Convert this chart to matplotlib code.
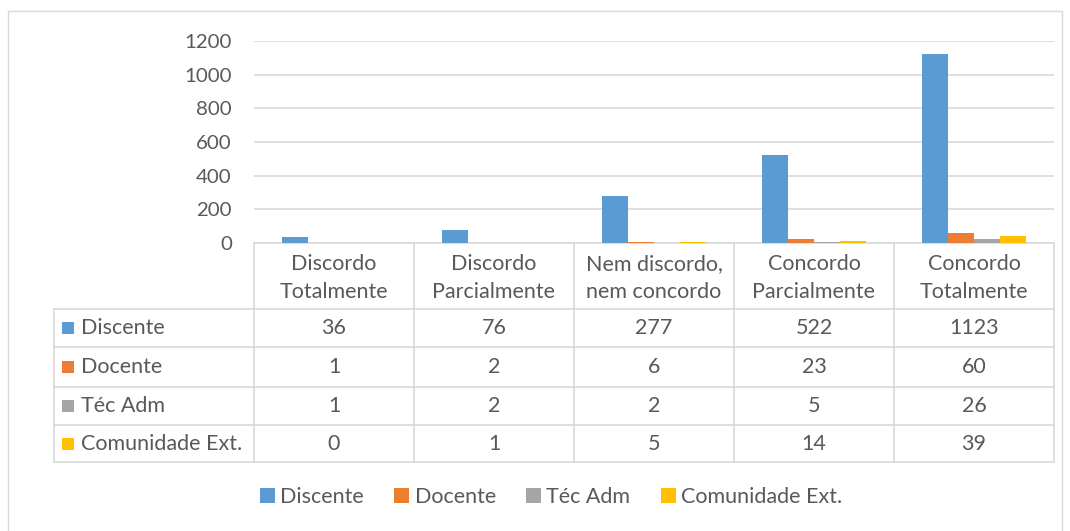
import matplotlib.pyplot as plt
from matplotlib.patches import Rectangle
import numpy as np

plt.rcParams['font.family'] = ['Lato', 'DejaVu Sans']

categories = ["Discordo\nTotalmente", "Discordo\nParcialmente", "Nem discordo,\nnem concordo",
              "Concordo\nParcialmente", "Concordo\nTotalmente"]
series = ["Discente", "Docente", "Téc Adm", "Comunidade Ext."]
discente = [36, 76, 277, 522, 1123]
docente = [1, 2, 6, 23, 60]
tec_adm = [1, 2, 2, 5, 26]
comunidade = [0, 1, 5, 14, 39]
values = [discente, docente, tec_adm, comunidade]
colors = ["#5B9BD5", "#ED7D31", "#A5A5A5", "#FFC000"]
yticks = [0, 200, 400, 600, 800, 1000, 1200]

W, H = 1070, 531
txt = "#595959"
grid = "#D9D9D9"
fig = plt.figure(figsize=(W / 100, H / 100), dpi=100)

# overlay in pixel coordinates for the table, border and legend
ov = fig.add_axes([0, 0, 1, 1])
ov.set_xlim(0, W)
ov.set_ylim(H, 0)
ov.axis("off")
ov.add_patch(Rectangle((8, 11), 1054, 530, fill=False, ec=grid, lw=1))

# bar plot area
x0, x1, y0, y1 = 254, 1054, 41, 243
ax = fig.add_axes([x0 / W, 1 - y1 / H, (x1 - x0) / W, (y1 - y0) / H])
x = np.arange(len(categories))
bw = 0.1625
for i, (name, vals) in enumerate(zip(series, values)):
    ax.bar(x + (i - 1.5) * bw, vals, bw, color=colors[i], label=name, zorder=3)
ax.set_xlim(-0.5, len(categories) - 0.5)
ax.set_ylim(0, 1200)
ax.set_yticks(yticks)
ax.set_xticks([])
ax.yaxis.grid(True, color=grid, lw=1.2, zorder=0)
for s in ax.spines.values():
    s.set_visible(False)
ax.tick_params(axis="y", length=0, pad=16, labelsize=14.7, labelcolor=txt)
ax.patch.set_alpha(0)

# data table
col_w = (x1 - x0) / len(categories)
left = 54
row_edges = [309, 347, 387, 425, 462]
top = 243
lc = "#D9D9D9"
for k in range(len(categories) + 1):
    xx = x0 + k * col_w
    ov.plot([xx, xx], [top, row_edges[-1]], color=lc, lw=1.2)
ov.plot([left, left], [row_edges[0], row_edges[-1]], color=lc, lw=1.2)
ov.plot([x0, x1], [top, top], color=lc, lw=1.2)
for ry in row_edges:
    ov.plot([left, x1], [ry, ry], color=lc, lw=1.2)

fs = 15.5
for k, cat in enumerate(categories):
    ov.text(x0 + (k + 0.5) * col_w, (top + row_edges[0]) / 2 + 2, cat, ha="center", va="center",
            fontsize=fs, color=txt, linespacing=1.55)
for r, (name, vals) in enumerate(zip(series, values)):
    cy = (row_edges[r] + row_edges[r + 1]) / 2
    ov.add_patch(Rectangle((left + 8, cy - 6), 12, 12, color=colors[r], lw=0))
    ov.text(left + 27, cy, name, ha="left", va="center", fontsize=fs, color=txt)
    for k, v in enumerate(vals):
        ov.text(x0 + (k + 0.5) * col_w, cy, str(v), ha="center", va="center", fontsize=fs, color=txt)

# legend
handles, labels = ax.get_legend_handles_labels()
fig.legend(handles, labels, loc="center", bbox_to_anchor=(551 / W, 1 - 497 / H), ncol=4, frameon=False,
           fontsize=fs, labelcolor=txt, handlelength=0.7, handleheight=0.7, handletextpad=0.25,
           columnspacing=1.4)

fig.savefig("out.png", dpi=100)
